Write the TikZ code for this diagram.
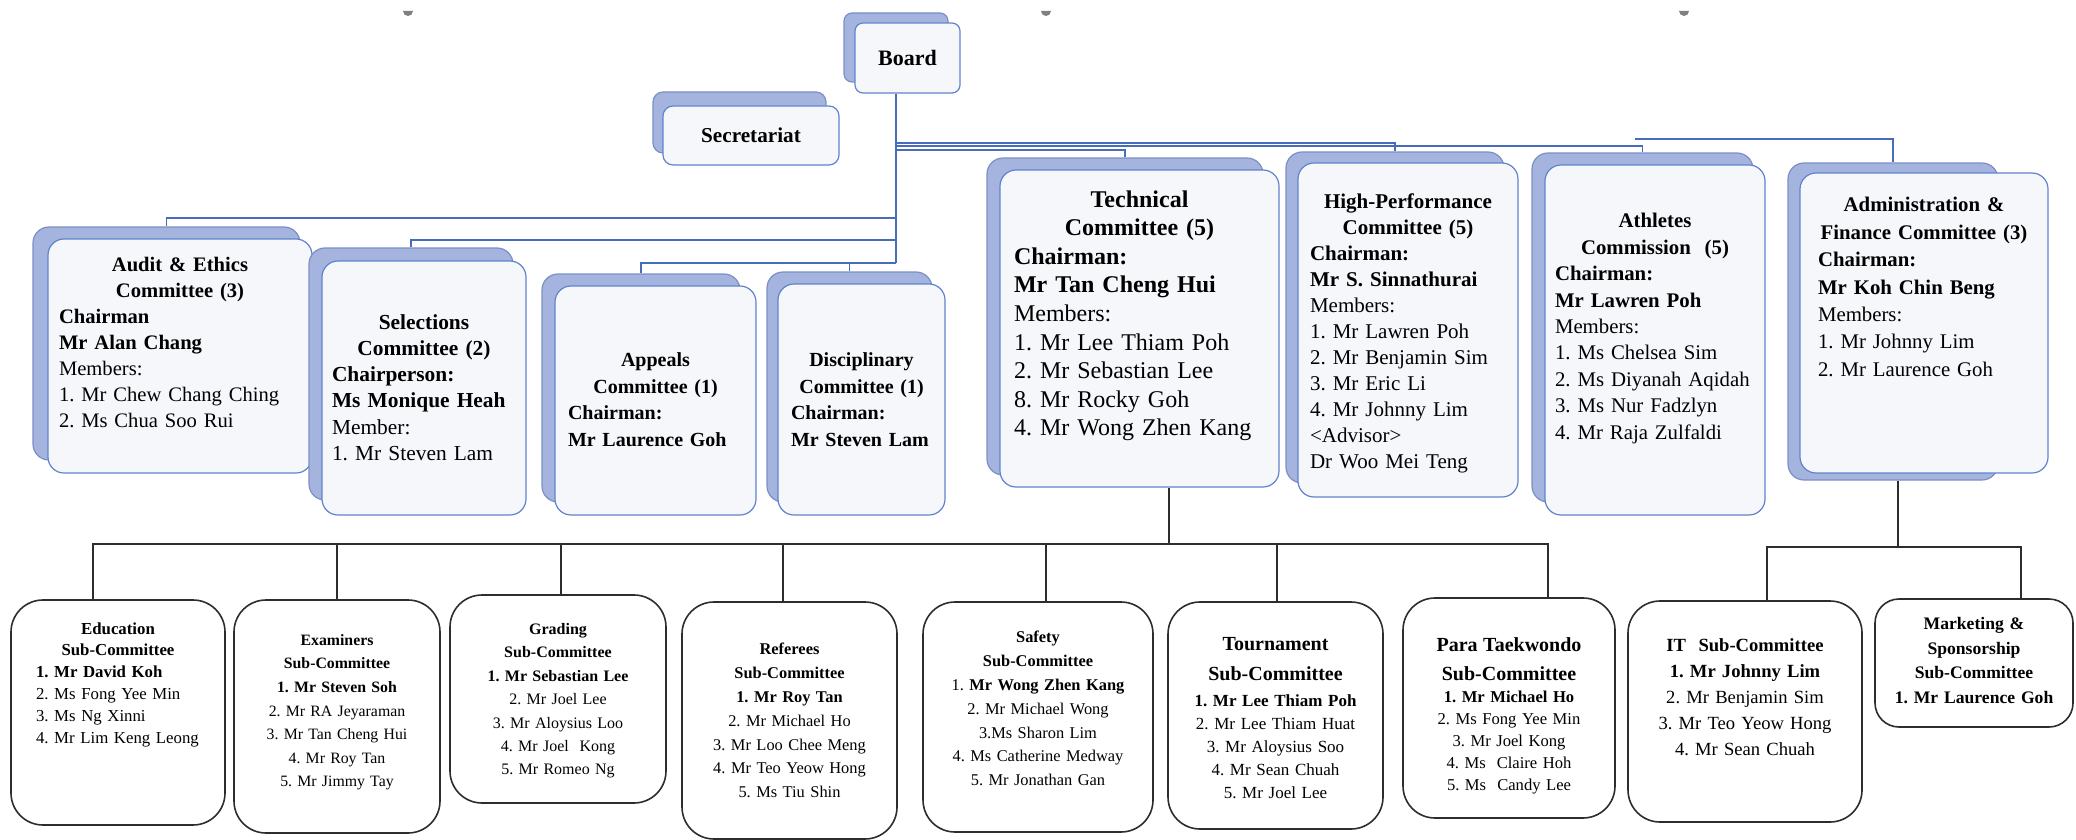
\documentclass[tikz,border=0pt]{standalone}
\usepackage{fontspec}
\setmainfont{Liberation Serif}
\frenchspacing
\definecolor{shadowblue}{RGB}{165,180,222}
\definecolor{shadowline}{RGB}{125,143,196}
\definecolor{paleface}{RGB}{246,247,251}
\definecolor{faceline}{RGB}{95,132,205}
\definecolor{linkblue}{RGB}{72,108,188}
\definecolor{subline}{RGB}{45,45,45}
\tikzset{
  shadowbox/.style = {draw = shadowline, fill = shadowblue, line width = 0.6pt, rounded corners = 8pt},
  facebox/.style = {draw = faceline, fill = paleface, line width = 0.6pt, rounded corners = 8pt},
  subbox/.style = {draw = subline, fill = white, line width = 0.8pt, rounded corners = 16pt},
  boxsize/.style 2 args = {minimum width = #1*0.5pt, minimum height = #2*0.5pt, inner sep = 0pt},
  boxtext/.style = {inner sep = 0pt, anchor = north},
  tline/.style = {linkblue, line width = 0.8pt},
  bline/.style = {subline, line width = 0.9pt}
}
\begin{document}
\begin{tikzpicture}[x = 0.5pt, y = -0.5pt]
        \useasboundingbox (0, 0) rectangle (2076, 840);
        \foreach \x in {408, 1046, 1684}
          \fill[gray] (\x+5, 11) arc[start angle = 0, end angle = 180, radius = 5];

        % board and secretariat
        \node[shadowbox, boxsize = {104}{69}, rounded corners = 4pt] (boardB) at (896, 47.5) {};
        \node[facebox, boxsize = {105}{70}, rounded corners = 4pt, font = \fontsize{11}{13}\selectfont\bfseries] (board) at (907.5, 58) {Board};
        \node[shadowbox, boxsize = {173}{61}, rounded corners = 5pt] (secB) at (739.5, 122.5) {};
        \node[facebox, boxsize = {176}{59}, rounded corners = 5pt, font = \fontsize{10.6}{13}\selectfont\bfseries] (sec) at (751, 135.5) {Secretariat};

        % committees
        \node[shadowbox, boxsize = {267}{233}] (auditB) at (166.5, 343.5) {};
        \node[facebox, boxsize = {264}{234}] (audit) at (180, 356) {};
        \node[boxtext, text width = 121pt, align = left, font = \fontsize{10.3}{13}\selectfont] (auditT) at (180, 257)
          {{\centering\bfseries Audit \& Ethics\\ Committee (3)\par}
           \textbf{Chairman}\\ \textbf{Mr Alan Chang}\\ Members:\\ 1. Mr Chew Chang Ching\\ 2. Ms Chua Soo Rui};

        \node[shadowbox, boxsize = {204}{252}] (selB) at (411, 374) {};
        \node[facebox, boxsize = {204}{254}] (sel) at (424, 388) {};
        \node[boxtext, text width = 92pt, align = left, font = \fontsize{10.7}{13.1}\selectfont] (selT) at (424, 314)
          {{\centering\bfseries Selections\\ Committee (2)\par}
           \textbf{Chairperson:}\\ \textbf{Ms Monique Heah}\\ Member:\\ 1. Mr Steven Lam};

        \node[shadowbox, boxsize = {198}{228}] (appB) at (641, 388) {};
        \node[facebox, boxsize = {201}{229}] (app) at (655.5, 400.5) {};
        \node[boxtext, text width = 87.5pt, align = left, font = \fontsize{10}{13.4}\selectfont] (appT) at (655.5, 352)
          {{\centering\bfseries Appeals\\ Committee (1)\par}
           \textbf{Chairman:}\\ \textbf{Mr Laurence Goh}};

        \node[shadowbox, boxsize = {165}{230}] (discB) at (849.5, 387) {};
        \node[facebox, boxsize = {167}{231}] (disc) at (861.5, 399.5) {};
        \node[boxtext, text width = 70.5pt, align = left, font = \fontsize{10}{13.4}\selectfont] (discT) at (861.5, 352)
          {{\centering\bfseries Disciplinary\\ Committee (1)\par}
           \textbf{Chairman:}\\ \textbf{Mr Steven Lam}};

        \node[shadowbox, boxsize = {276}{317}] (techB) at (1125, 316.5) {};
        \node[facebox, boxsize = {279}{317}] (tech) at (1139.5, 328.5) {};
        \node[boxtext, text width = 125.5pt, align = left, font = \fontsize{12}{14.3}\selectfont] (techT) at (1139.5, 190)
          {{\centering\bfseries Technical\\ Committee (5)\par}
           \textbf{Chairman:}\\ \textbf{Mr Tan Cheng Hui}\\ Members:\\ 1. Mr Lee Thiam Poh\\ 2. Mr Sebastian Lee\\
           8. Mr Rocky Goh\\ 4. Mr Wong Zhen Kang};

        \node[shadowbox, boxsize = {218}{331}] (hpB) at (1395, 317.5) {};
        \node[facebox, boxsize = {220}{334}] (hp) at (1408, 330) {};
        \node[boxtext, text width = 98pt, align = left, font = \fontsize{10.5}{13}\selectfont] (hpT) at (1408, 193)
          {{\centering\bfseries High-Performance\\ Committee (5)\par}
           \textbf{Chairman:}\\ \textbf{Mr S. Sinnathurai}\\ Members:\\ 1. Mr Lawren Poh\\ 2. Mr Benjamin Sim\\
           3. Mr Eric Li\\ 4. Mr Johnny Lim\\ \textless Advisor\textgreater\\ Dr Woo Mei Teng};

        \node[shadowbox, boxsize = {221}{349}] (athB) at (1642.5, 327.5) {};
        \node[facebox, boxsize = {220}{350}] (ath) at (1655, 340) {};
        \node[boxtext, text width = 100pt, align = left, font = \fontsize{10.4}{13.2}\selectfont] (athT) at (1655, 213)
          {{\centering\bfseries Athletes\\ Commission\ \ (5)\par}
           \textbf{Chairman:}\\ \textbf{Mr Lawren Poh}\\ Members:\\ 1. Ms Chelsea Sim\\ 2. Ms Diyanah Aqidah\\
           3. Ms Nur Fadzlyn\\ 4. Mr Raja Zulfaldi};

        \node[shadowbox, boxsize = {210}{317}] (adminB) at (1893, 321.5) {};
        \node[facebox, boxsize = {248}{300}] (admin) at (1924, 323) {};
        \node[boxtext, text width = 106pt, align = left, font = \fontsize{10.4}{13.7}\selectfont] (adminT) at (1924, 197)
          {{\centering\bfseries Administration \&\\ Finance Committee (3)\par}
           \textbf{Chairman:}\\ \textbf{Mr Koh Chin Beng}\\ Members:\\ 1. Mr Johnny Lim\\ 2. Mr Laurence Goh};

        % sub-committees
        \node[subbox, boxsize = {214}{225}] (edu) at (118, 712.5) {};
        \node[boxtext, text width = 82pt, align = left, font = \fontsize{8.4}{10.9}\selectfont] (eduT) at (118, 622)
          {{\centering\bfseries Education\\ Sub-Committee\par}
           \textbf{1. Mr David Koh}\\ 2. Ms Fong Yee Min\\ 3. Ms Ng Xinni\\ 4. Mr Lim Keng Leong};

        \node[subbox, boxsize = {206}{233}] (exam) at (337, 716.5) {};
        \node[boxtext, text width = 95pt, align = center, font = \fontsize{7.9}{11.8}\selectfont] (examT) at (337, 634)
          {\textbf{Examiners}\\ \textbf{Sub-Committee}\\ \textbf{1. Mr Steven Soh}\\ 2. Mr RA Jeyaraman\\
           3. Mr Tan Cheng Hui\\ 4. Mr Roy Tan\\ 5. Mr Jimmy Tay};

        \node[subbox, boxsize = {216}{208}] (grad) at (558, 699) {};
        \node[boxtext, text width = 95pt, align = center, font = \fontsize{8}{11.7}\selectfont] (gradT) at (558, 623)
          {\textbf{Grading}\\ \textbf{Sub-Committee}\\ \textbf{1. Mr Sebastian Lee}\\ 2. Mr Joel Lee\\
           3. Mr Aloysius Loo\\ 4. Mr Joel\ \ Kong\\ 5. Mr Romeo Ng};

        \node[subbox, boxsize = {215}{237}] (ref) at (789.5, 720.5) {};
        \node[boxtext, text width = 95pt, align = center, font = \fontsize{8.2}{11.9}\selectfont] (refT) at (789.5, 643)
          {\textbf{Referees}\\ \textbf{Sub-Committee}\\ \textbf{1. Mr Roy Tan}\\ 2. Mr Michael Ho\\
           3. Mr Loo Chee Meng\\ 4. Mr Teo Yeow Hong\\ 5. Ms Tiu Shin};

        \node[subbox, boxsize = {230}{230}] (saf) at (1038, 717) {};
        \node[boxtext, text width = 105pt, align = center, font = \fontsize{8.2}{11.9}\selectfont] (safT) at (1038, 631)
          {\textbf{Safety}\\ \textbf{Sub-Committee}\\ 1. \textbf{Mr Wong Zhen Kang}\\ 2. Mr Michael Wong\\
           3.Ms Sharon Lim\\ 4. Ms Catherine Medway\\ 5. Mr Jonathan Gan};

        \node[subbox, boxsize = {215}{227}] (tour) at (1275.5, 715.5) {};
        \node[boxtext, text width = 100pt, align = center, font = \fontsize{8.5}{11.5}\selectfont] (tourT) at (1275.5, 637)
          {{\fontsize{10}{15}\selectfont\bfseries Tournament\\ Sub-Committee\par}\vspace{1.5pt}
           \textbf{1. Mr Lee Thiam Poh}\\ 2. Mr Lee Thiam Huat\\ 3. Mr Aloysius Soo\\ 4. Mr Sean Chuah\\ 5. Mr Joel Lee};

        \node[subbox, boxsize = {212}{220}] (para) at (1509, 708) {};
        \node[boxtext, text width = 100pt, align = center, font = \fontsize{8.3}{11}\selectfont] (paraT) at (1509, 637)
          {{\fontsize{10}{14.8}\selectfont\bfseries Para Taekwondo\\ Sub-Committee\par}
           \textbf{1. Mr Michael Ho}\\ 2. Ms Fong Yee Min\\ 3. Mr Joel Kong\\ 4. Ms\ \ Claire Hoh\\ 5. Ms\ \ Candy Lee};

        \node[subbox, boxsize = {234}{221}] (it) at (1745, 711.5) {};
        \node[boxtext, text width = 105pt, align = center, font = \fontsize{9.3}{13}\selectfont] (itT) at (1745, 638)
          {\textbf{IT\ \ Sub-Committee}\\ \textbf{1. Mr Johnny Lim}\\ 2. Mr Benjamin Sim\\ 3. Mr Teo Yeow Hong\\
           4. Mr Sean Chuah};

        \node[subbox, boxsize = {198}{128}, rounded corners = 12pt] (mkt) at (1974, 663) {};
        \node[boxtext, text width = 90pt, align = center, font = \fontsize{8.8}{12.3}\selectfont\bfseries] (mktT) at (1974, 617)
          {Marketing \&\\ Sponsorship\\ Sub-Committee\\ 1. Mr Laurence Goh};

        % links
        \coordinate (lvA) at (896, 143);
        \coordinate (lvB) at (896, 146);
        \coordinate (lvC) at (896, 150);
        \coordinate (lvD) at (896, 218);
        \coordinate (lvE) at (896, 240);
        \coordinate (lvF) at (896, 263);
        \coordinate (admEnd) at (1635, 139);
        \coordinate (tbus) at (1169, 544);
        \coordinate (abus) at (1898, 547);

        \draw[tline] (board.south -| lvF) -- (lvF);
        \draw[tline] (hpB.north) |- (lvA);
        \draw[tline] (athB.north) |- (lvB);
        \draw[tline] (techB.north) |- (lvC);
        \draw[tline] (adminB.north) |- (admEnd);
        \draw[tline] (auditB.north) |- (lvD);
        \draw[tline] (selB.north) |- (lvE);
        \draw[tline] (appB.north) |- (lvF);
        \draw[tline] (discB.north) |- (lvF);

        \draw[bline] (tech.south -| tbus) -- (tbus);
        \draw[bline] ([xshift = -12.5pt]edu.north) |- (tbus);
        \draw[bline] (exam.north) |- (tbus);
        \draw[bline] ([xshift = 1.5pt]grad.north) |- (tbus);
        \draw[bline] ([xshift = -3.25pt]ref.north) |- (tbus);
        \draw[bline] ([xshift = 4pt]saf.north) |- (tbus);
        \draw[bline] ([xshift = 0.75pt]tour.north) |- (tbus);
        \draw[bline] ([xshift = 19.5pt]para.north) |- (tbus);
        \draw[bline] (adminB.south -| abus) -- (abus);
        \draw[bline] ([xshift = 11pt]it.north) |- (abus);
        \draw[bline] ([xshift = 23.5pt]mkt.north) |- (abus);
      \end{tikzpicture}
\end{document}
